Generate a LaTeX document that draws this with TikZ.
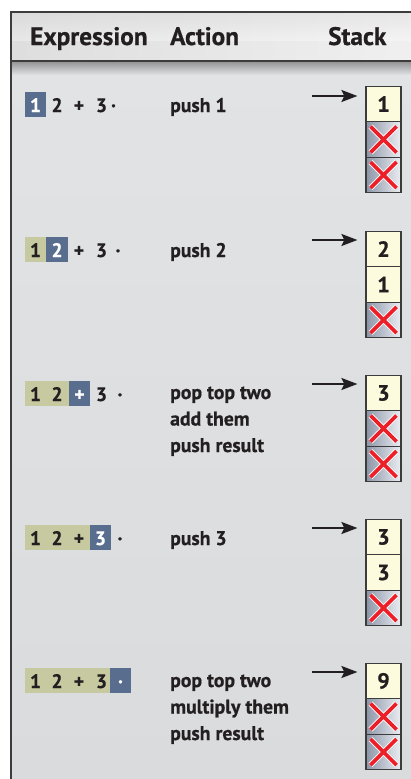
\documentclass[tikz,border=0pt]{standalone}
\usepackage{fontspec}
\setmainfont{PT Sans}[BoldFeatures={FakeBold=0.6}]
\usetikzlibrary{arrows.meta}
\definecolor{tokblue}{RGB}{89,109,142}
\definecolor{tokgreen}{RGB}{199,202,160}
\definecolor{cellyellow}{RGB}{253,251,221}
\definecolor{xred}{RGB}{236,30,40}
\definecolor{xleft}{RGB}{140,149,168}
\definecolor{xright}{RGB}{236,238,242}
\definecolor{bodytop}{RGB}{226,227,229}
\definecolor{bodymid}{RGB}{249,249,249}
\definecolor{bodybot}{RGB}{218,219,221}
\definecolor{framecol}{RGB}{60,60,60}
\definecolor{textcol}{RGB}{35,31,32}
\tikzset{
  hdr/.style={anchor=base west, font=\fontsize{25.3}{28}\selectfont\bfseries, text=textcol, inner sep=0},
  tok/.style={anchor=base, font=\fontsize{19.5}{20}\selectfont\bfseries, text=textcol, inner sep=0},
  tokw/.style={tok, text=white},
  act/.style={anchor=base west, font=\fontsize{19.7}{22}\selectfont\bfseries, text=textcol, inner sep=0},
  numcell/.style={draw=framecol, line width=1.2pt, fill=cellyellow, minimum width=35pt, minimum height=35.5pt, inner sep=0, font=\fontsize{22}{24}\selectfont\bfseries, text=textcol},
  xcell/.style={draw=framecol, line width=1.2pt, left color=xleft, right color=xright, minimum width=35pt, minimum height=35.5pt, inner sep=0},
  arr/.style={line width=2.2pt, -{Stealth[length=16pt,width=12pt,inset=3pt]}, textcol}
}
\newcommand{\redx}[1]{%
  \draw[white, line width=5.6pt] ([shift={(-13,-13)}]#1.center) -- ([shift={(13,13)}]#1.center);
  \draw[white, line width=5.6pt] ([shift={(-13,13)}]#1.center) -- ([shift={(13,-13)}]#1.center);
  \draw[xred, line width=3.6pt] ([shift={(-13,-13)}]#1.center) -- ([shift={(13,13)}]#1.center);
  \draw[xred, line width=3.6pt] ([shift={(-13,13)}]#1.center) -- ([shift={(13,-13)}]#1.center);}
\begin{document}
\begin{tikzpicture}[x=1pt,y=-1pt]
\useasboundingbox (0,0) rectangle (410,779);
\fill[white] (0,0) rectangle (410,779);
% body background
\shade[top color=bodytop, middle color=bodymid, bottom color=bodybot] (11,61) rectangle (412,781);
\shade[top color=black!40!bodytop, bottom color=bodytop, opacity=0.9] (11,61) rectangle (412,75);
% header
\shade[left color=black!13, middle color=black!2, right color=black!6] (11,12) rectangle (412,61);
\shade[top color=black!18, bottom color=white, opacity=0.3] (11,12) rectangle (412,40);
\draw[framecol, line width=1.1pt] (11,61) -- (412,61);
\draw[framecol, line width=1.6pt] (11,781) -- (11,12) -- (412,12);
\node[hdr] (hexp) at (30,45) {Expression};
\node[hdr] (hact) at (170,45) {Action};
\node[hdr] (hstk) at (328,45) {Stack};

% ---------- Row 1 (T=86)
\fill[tokblue] (25,92) rectangle (46,117);
\node[tokw] (r1a) at (35.5,112) {1};
\node[tok] (r1b) at (57,112) {2};
\node[tok] (r1c) at (79,112) {+};
\node[tok] (r1d) at (101.5,112) {3};
\node[tok] (r1e) at (113.5,112) {·};
\node[act] (r1act) at (170,112) {push 1};
\node[numcell] (s1a) at (383.5,104) {1};
\node[xcell] (s1b) at (383.5,139.5) {};
\node[xcell] (s1c) at (383.5,175) {};
\redx{s1b}\redx{s1c}
\coordinate (a1) at (312,96);
\draw[arr] (a1) -- ([xshift=-8pt]s1a.west |- a1);

% ---------- Row 2 (T=231)
\fill[tokgreen] (25,237) rectangle (46,262);
\fill[tokblue] (46,237) rectangle (67.5,262);
\node[tok] (r2a) at (35.5,257) {1};
\node[tokw] (r2b) at (57,257) {2};
\node[tok] (r2c) at (79,257) {+};
\node[tok] (r2d) at (101.5,257) {3};
\node[tok] (r2e) at (118,257) {·};
\node[act] (r2act) at (170,257) {push 2};
\node[numcell] (s2a) at (383.5,249) {2};
\node[numcell] (s2b) at (383.5,284.5) {1};
\node[xcell] (s2c) at (383.5,320) {};
\redx{s2c}
\coordinate (a2) at (312,240);
\draw[arr] (a2) -- ([xshift=-8pt]s2a.west |- a2);

% ---------- Row 3 (T=375)
\fill[tokgreen] (25,381) rectangle (69,406);
\fill[tokblue] (69,381) rectangle (90,406);
\node[tok] (r3a) at (35.5,401) {1};
\node[tok] (r3b) at (57,401) {2};
\node[tokw] (r3c) at (79.5,401) {+};
\node[tok] (r3d) at (101.5,401) {3};
\node[tok] (r3e) at (120,401) {·};
\node[act] (r3act1) at (170,399) {pop top two};
\node[act] (r3act2) at (170,425.5) {add them};
\node[act] (r3act3) at (170,452) {push result};
\node[numcell] (s3a) at (383.5,393) {3};
\node[xcell] (s3b) at (383.5,428.5) {};
\node[xcell] (s3c) at (383.5,464) {};
\redx{s3b}\redx{s3c}
\coordinate (a3) at (312,384);
\draw[arr] (a3) -- ([xshift=-8pt]s3a.west |- a3);

% ---------- Row 4 (T=519)
\fill[tokgreen] (25,525) rectangle (90,550);
\fill[tokblue] (90,525) rectangle (111,550);
\node[tok] (r4a) at (35.5,545) {1};
\node[tok] (r4b) at (57,545) {2};
\node[tok] (r4c) at (79,545) {+};
\node[tokw] (r4d) at (100.5,545) {3};
\node[tok] (r4e) at (120,545) {·};
\node[act] (r4act) at (170,545) {push 3};
\node[numcell] (s4a) at (383.5,537) {3};
\node[numcell] (s4b) at (383.5,572.5) {3};
\node[xcell] (s4c) at (383.5,608) {};
\redx{s4c}
\coordinate (a4) at (312,528);
\draw[arr] (a4) -- ([xshift=-8pt]s4a.west |- a4);

% ---------- Row 5 (T=663)
\fill[tokgreen] (25,668) rectangle (110,693);
\fill[tokblue] (110,668) rectangle (131,693);
\node[tok] (r5a) at (35.5,688) {1};
\node[tok] (r5b) at (57,688) {2};
\node[tok] (r5c) at (79,688) {+};
\node[tok] (r5d) at (101.5,688) {3};
\node[tokw] (r5e) at (120.5,688) {·};
\node[act] (r5act1) at (170,687) {pop top two};
\node[act] (r5act2) at (170,713.5) {multiply them};
\node[act] (r5act3) at (170,740) {push result};
\node[numcell] (s5a) at (383.5,681) {9};
\node[xcell] (s5b) at (383.5,716.5) {};
\node[xcell] (s5c) at (383.5,752) {};
\redx{s5b}\redx{s5c}
\coordinate (a5) at (312,672);
\draw[arr] (a5) -- ([xshift=-8pt]s5a.west |- a5);
\end{tikzpicture}
\end{document}
